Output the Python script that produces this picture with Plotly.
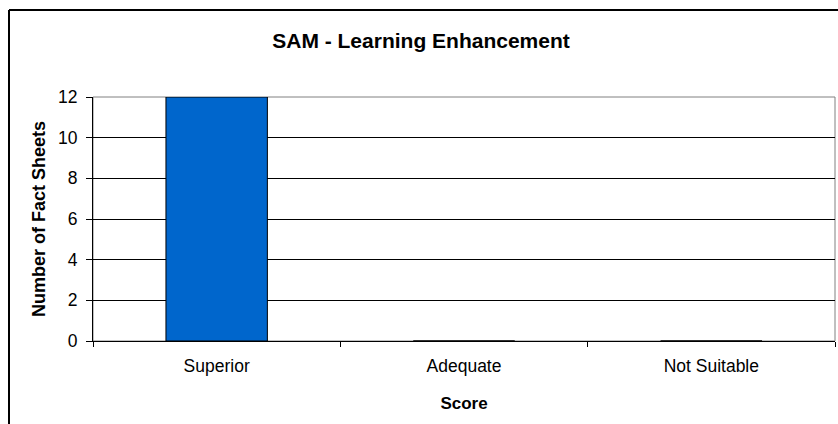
import plotly.graph_objects as go

categories = ["Superior", "Adequate", "Not Suitable"]
counts = [12, 0, 0]
y_ticks = [0, 2, 4, 6, 8, 10, 12]

W, H = 838, 424
L, R, T, B = 93, 3, 97, 83
pw, ph = W - L - R, H - T - B

fig = go.Figure(go.Bar(
    x=categories, y=counts,
    marker=dict(color="#0066CC", line=dict(color="#000000", width=1)),
    width=0.41,
))

font = "Liberation Sans, Arial, sans-serif"
fig.update_layout(
    width=W, height=H,
    margin=dict(l=L, r=R, t=T, b=B),
    paper_bgcolor="white", plot_bgcolor="white",
    showlegend=False,
    font=dict(family=font, size=17, color="#000"),
    title=dict(text="<b>SAM - Learning Enhancement</b>", x=(421 - L) / pw, xref="paper",
               xanchor="center", y=1 - 41 / H, yanchor="middle",
               font=dict(size=21, family=font, color="#000")),
    xaxis=dict(
        type="category", tickson="boundaries", ticks="outside", ticklen=5,
        tickcolor="#000", showline=True, linecolor="#000", linewidth=1,
        showgrid=False, ticklabelstandoff=9,
        title=dict(text="<b>Score</b>", standoff=22,
                   font=dict(size=17, family=font)),
        tickfont=dict(size=17.5), range=[-0.5, 2.5],
    ),
    yaxis=dict(
        range=[0, 12], tickvals=y_ticks, ticks="outside", ticklen=6,
        tickcolor="#000", showline=True, linecolor="#000", linewidth=1,
        showgrid=True, gridcolor="#000", gridwidth=1, zeroline=False,
        ticklabelstandoff=5,
        title=dict(text="<b>Number of Fact Sheets</b>", standoff=7,
                   font=dict(size=18, family=font)),
        tickfont=dict(size=17.5),
    ),
    shapes=[
        dict(type="rect", xref="paper", yref="paper", x0=0, x1=1, y0=0, y1=1,
             line=dict(color="#808080", width=1), layer="below"),
        dict(type="line", xref="paper", yref="paper",
             x0=(9 - L) / pw, x1=(W + 5 - L) / pw,
             y0=1 + (T - 10) / ph, y1=1 + (T - 10) / ph,
             line=dict(color="#000", width=2)),
        dict(type="line", xref="paper", yref="paper",
             x0=(9 - L) / pw, x1=(9 - L) / pw,
             y0=1 + (T - 10) / ph, y1=-(B + 5) / ph,
             line=dict(color="#000", width=2)),
    ],
)

fig.write_html("out.html", config={"displayModeBar": False},
               post_script="document.body.style.margin='0';document.body.style.overflow='hidden';")
